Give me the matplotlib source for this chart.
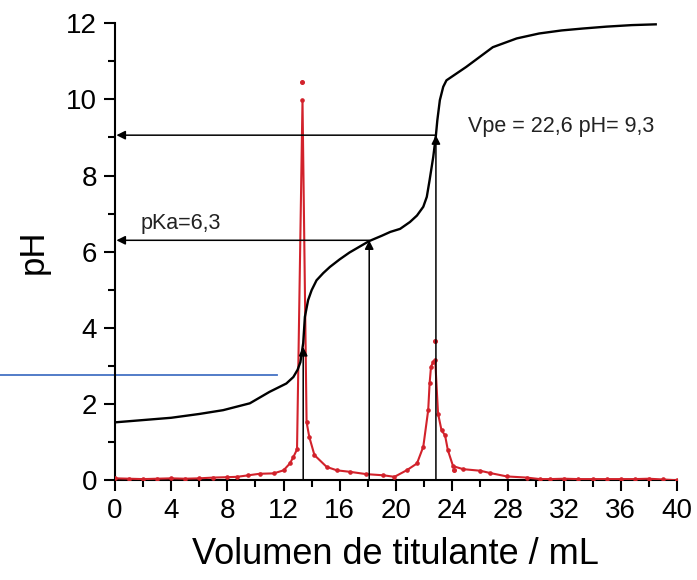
import matplotlib
matplotlib.use('Agg')
from matplotlib import pyplot as plt
from matplotlib.ticker import MultipleLocator

plt.rcParams['font.family'] = ['Liberation Sans', 'DejaVu Sans']

# titration curve (pH vs volume)
vol_ph = [0, 2, 4, 6, 7.7, 9.6, 11.0, 12.2, 12.7, 13.0, 13.2, 13.4, 13.52, 13.75,
          14.0, 14.35, 14.83, 15.3, 16.0, 16.7, 17.4, 18.1, 19.0, 19.6, 20.3,
          21.0, 21.5, 21.95, 22.2, 22.4, 22.66, 22.85, 22.95, 23.13, 23.37, 23.6,
          23.84, 25.0, 26.9, 28.6, 30.2, 31.8, 33.3, 35, 36.8, 38.5]
ph = [1.52, 1.58, 1.64, 1.74, 1.84, 2.02, 2.32, 2.54, 2.71, 2.9, 3.1, 3.6, 4.29, 4.73,
      4.99, 5.25, 5.44, 5.6, 5.8, 5.98, 6.13, 6.28, 6.42, 6.52, 6.6,
      6.78, 6.95, 7.18, 7.44, 7.88, 8.49, 9.06, 9.45, 9.98, 10.33, 10.5,
      10.56, 10.85, 11.37, 11.6, 11.73, 11.81, 11.86, 11.91, 11.95, 11.97]

# first derivative curve
vol_der = [0, 1, 2, 3, 4, 5, 6, 7, 8, 8.7, 9.5, 10.3, 11.3, 12.0, 12.45, 12.7, 12.96,
           13.35, 13.64, 13.83, 14.2, 15.07, 15.8, 16.75, 17.9, 19.1, 19.9, 20.76,
           21.5, 21.95, 22.3, 22.4, 22.5, 22.65, 22.8, 23.0, 23.25, 23.5, 23.7,
           24.07, 24.8, 26.0, 26.7, 27.9, 29.3, 30.25, 31, 32, 33, 34, 35, 36,
           37, 38, 39, 40]
der = [0.05, 0.04, 0.03, 0.04, 0.05, 0.04, 0.05, 0.07, 0.08, 0.09, 0.13, 0.17, 0.18,
       0.26, 0.44, 0.61, 0.81, 9.98, 1.53, 1.14, 0.66, 0.35, 0.26, 0.22, 0.16, 0.13,
       0.09, 0.26, 0.44, 0.88, 1.84, 2.54, 2.98, 3.1, 3.15, 1.75, 1.31, 1.18, 0.79,
       0.37, 0.29, 0.25, 0.19, 0.10, 0.07, 0.03, 0.03, 0.04, 0.03, 0.03, 0.03, 0.03,
       0.03, 0.04, 0.02, 0.0]
# stray derivative points
out_vol = [13.35, 22.8, 24.15]
out_der = [10.46, 3.65, 0.26]

vpe = 22.85
ph_vpe = 9.06
v_half = 18.1
pka = 6.3
v_first = 13.4
ph_first = 3.5
blue_ph = 2.76

red = '#D2222B'

fig = plt.figure(figsize=(6.97, 5.8), dpi=100)
ax = fig.add_axes([0.165, 0.172, 0.806, 0.788])

ax.plot(vol_der, der, color=red, lw=1.5, marker='o', ms=2.3, zorder=3)
ax.plot(out_vol, out_der, 'o', color=red, ms=2.6, zorder=3)
ax.plot(vol_ph, ph, color='black', lw=1.7, zorder=4)

arr = dict(arrowstyle='-|>', color='black', lw=1.1, mutation_scale=13,
           shrinkA=0, shrinkB=0)
ax.annotate('', xy=(0.1, ph_vpe), xytext=(vpe, ph_vpe), arrowprops=arr)
ax.annotate('', xy=(0.1, pka), xytext=(v_half, pka), arrowprops=arr)
ax.annotate('', xy=(vpe, ph_vpe), xytext=(vpe, 0), arrowprops=arr)
ax.annotate('', xy=(v_half, pka), xytext=(v_half, 0), arrowprops=arr)
ax.annotate('', xy=(v_first, ph_first), xytext=(v_first, 0), arrowprops=arr)

ax.plot([-8.2, 11.5], [blue_ph, blue_ph], color='#4472C4', lw=1.3, clip_on=False)

ax.text(1.8, 6.6, 'pKa=6,3', fontsize=15.5, color='#222222')
ax.text(25.1, 9.3, 'Vpe = 22,6 pH= 9,3', fontsize=15.5, color='#222222',
        va='center')

ax.set_xlim(0, 40)
ax.set_ylim(0, 12)
ax.xaxis.set_major_locator(MultipleLocator(4))
ax.xaxis.set_minor_locator(MultipleLocator(2))
ax.yaxis.set_major_locator(MultipleLocator(2))
ax.yaxis.set_minor_locator(MultipleLocator(1))
for s in ('top', 'right'):
    ax.spines[s].set_visible(False)
for s in ('left', 'bottom'):
    ax.spines[s].set_linewidth(1.5)
ax.tick_params(which='major', length=8, width=1.5, labelsize=20, pad=5)
ax.tick_params(which='minor', length=5, width=1.5)

ax.set_xlabel('Volumen de titulante / mL', fontsize=26, labelpad=9)
ax.set_ylabel('pH', fontsize=25, labelpad=12)

fig.savefig('out.png', dpi=100)
